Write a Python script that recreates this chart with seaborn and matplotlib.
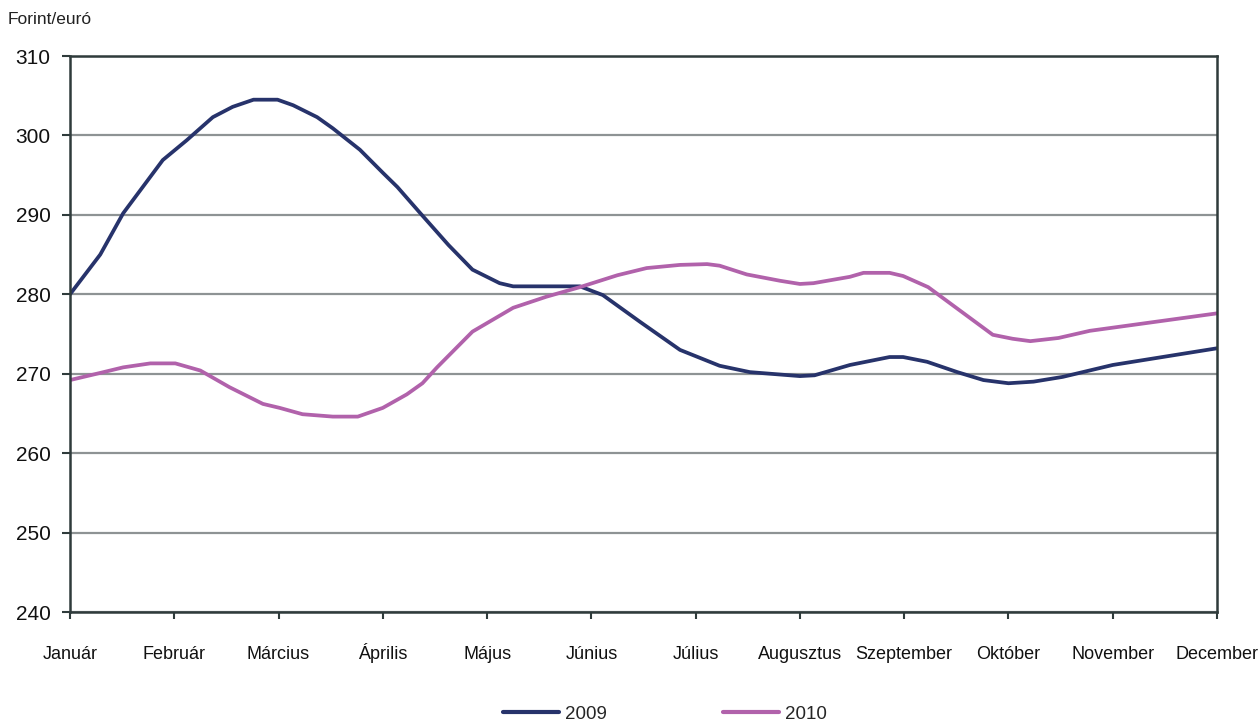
import matplotlib
matplotlib.use("Agg")
from matplotlib import pyplot as plt
import pandas as pd
import seaborn as sns

# * month labels on the x axis
months = ['Január', 'Február', 'Március', 'Április', 'Május', 'Június',
          'Július', 'Augusztus', 'Szeptember', 'Október', 'November', 'December']

# * 2009 series: position in months (0 = Január) and forint/euro rate
pos_2009 = [0.00, 0.29, 0.51, 0.89, 1.12, 1.37, 1.56, 1.76, 1.99, 2.14, 2.37,
            2.52, 2.78, 3.00, 3.14, 3.36, 3.63, 3.86, 4.12, 4.25, 4.89, 5.11,
            5.47, 5.85, 6.23, 6.52, 7.00, 7.14, 7.48, 7.86, 7.99, 8.22, 8.51,
            8.76, 9.00, 9.24, 9.52, 10.00, 11.00]
rate_2009 = [280.0, 285.0, 290.2, 296.9, 299.4, 302.3, 303.6, 304.5, 304.5,
             303.8, 302.3, 300.9, 298.2, 295.3, 293.5, 290.2, 286.2, 283.1,
             281.4, 281.0, 281.0, 279.9, 276.5, 273.0, 271.0, 270.2, 269.7,
             269.8, 271.1, 272.1, 272.1, 271.5, 270.2, 269.2, 268.8, 269.0,
             269.6, 271.1, 273.2]

# * 2010 series
pos_2010 = [0.00, 0.29, 0.51, 0.77, 1.01, 1.25, 1.53, 1.85, 2.01, 2.23, 2.52,
            2.76, 3.00, 3.23, 3.38, 3.52, 3.86, 4.25, 4.57, 4.89, 5.25, 5.53,
            5.85, 6.11, 6.23, 6.49, 6.81, 7.00, 7.13, 7.48, 7.61, 7.86, 7.99,
            8.23, 8.85, 9.04, 9.21, 9.48, 9.78, 11.00]
rate_2010 = [269.2, 270.1, 270.8, 271.3, 271.3, 270.4, 268.3, 266.2, 265.7,
             264.9, 264.6, 264.6, 265.7, 267.4, 268.8, 270.8, 275.3, 278.3,
             279.7, 280.9, 282.4, 283.3, 283.7, 283.8, 283.6, 282.5, 281.7,
             281.3, 281.4, 282.2, 282.7, 282.7, 282.3, 280.9, 274.9, 274.4,
             274.1, 274.5, 275.4, 277.6]

yticks = [240, 250, 260, 270, 280, 290, 300, 310]

# build a long table for seaborn
df = pd.concat([
    pd.DataFrame({'month': pos_2009, 'rate': rate_2009, 'year': '2009'}),
    pd.DataFrame({'month': pos_2010, 'rate': rate_2010, 'year': '2010'}),
])

sns.set_style('white')
plt.rcParams['font.family'] = ['Liberation Sans', 'DejaVu Sans']

fig = plt.figure(figsize=(12.59, 7.24), dpi=100)
ax = fig.add_axes([70 / 1259, 1 - 612 / 724, (1217 - 70) / 1259, (612 - 56) / 724])

sns.lineplot(data=df, x='month', y='rate', hue='year', sort=False,
             palette={'2009': '#27336b', '2010': '#b162ab'},
             linewidth=2.7, ax=ax, legend=True)

ax.set_xlim(0, 11)
ax.set_ylim(240, 310)
ax.set_xticks(range(12))
ax.set_xticklabels(months, va='baseline')
ax.set_yticks(yticks)
ax.set_xlabel('')
ax.set_ylabel('')

# gridlines and frame
ax.grid(axis='y', color='#8e9394', linewidth=1.6)
ax.set_axisbelow(True)
for s in ax.spines.values():
    s.set_color('#2f3b3b')
    s.set_linewidth(1.8)

ax.tick_params(axis='x', direction='out', length=5, width=1.5, color='#2f3b3b',
               pad=29, labelsize=13, labelcolor='#111111')
ax.tick_params(axis='y', direction='out', length=6, width=1.5, color='#2f3b3b',
               pad=8, labelsize=15, labelcolor='#111111')
ax.tick_params(bottom=True, left=True)

fig.text(8 / 1259, 1 - 20 / 724, 'Forint/euró', fontsize=12.5, color='#222222',
         va='center', ha='left')

# legend at the bottom
handles, labels = ax.get_legend_handles_labels()
ax.legend(handles, labels, loc='center', bbox_to_anchor=(665 / 1259, 1 - 714 / 724),
          bbox_transform=fig.transFigure, ncol=2, frameon=False, fontsize=13.5,
          handlelength=3.0, handletextpad=0.3, columnspacing=6.2)
for line in ax.get_legend().get_lines():
    line.set_linewidth(3)

fig.savefig('out.png', dpi=100)
